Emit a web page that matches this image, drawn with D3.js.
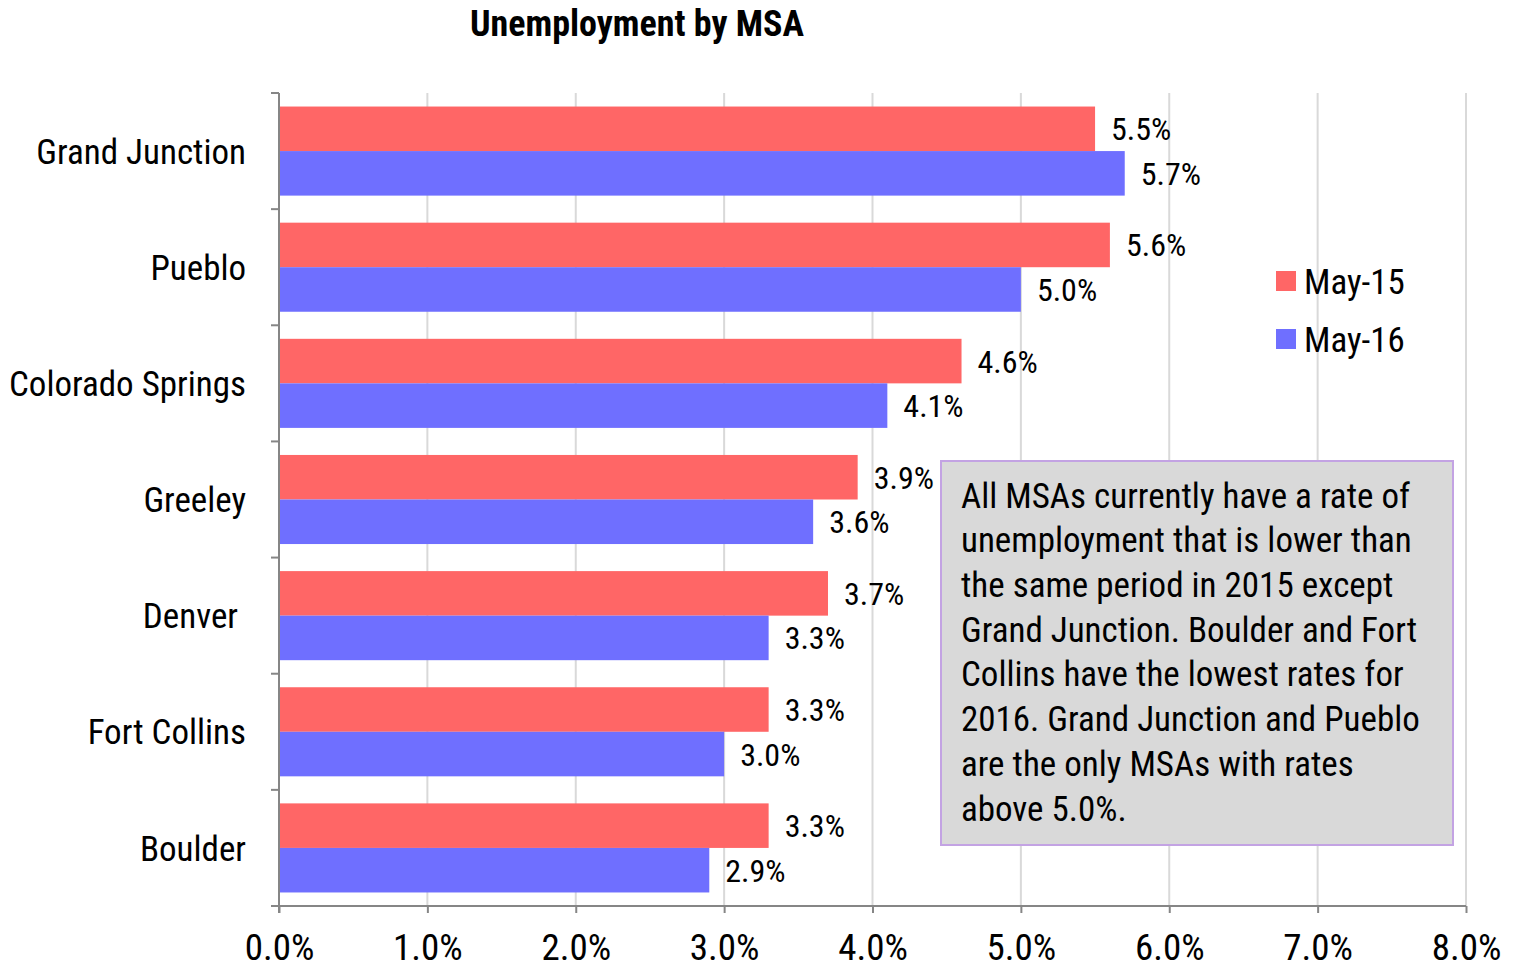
<!DOCTYPE html>
<html><head><meta charset="utf-8">
<script src="https://cdn.jsdelivr.net/npm/d3@7/dist/d3.min.js"></script>
<style>
html,body{margin:0;padding:0;background:#fff;}
svg text{font-family:"Liberation Sans Narrow","Arial Narrow","Roboto Condensed",sans-serif;fill:#000;}
</style></head>
<body><svg id="c" width="1517" height="969"></svg>
<script>
const categories = ["Grand Junction","Pueblo","Colorado Springs","Greeley","Denver ","Fort Collins","Boulder"];
const seriesNames = ["May-15","May-16"];
const may15 = [5.5,5.6,4.6,3.9,3.7,3.3,3.3];
const may16 = [5.7,5.0,4.1,3.6,3.3,3.0,2.9];
const xTicks = [0,1,2,3,4,5,6,7,8];
const colors = ["#FF6666","#6F6FFF"];
const title = "Unemployment by MSA";
const noteLines = ["All MSAs currently have a rate of","unemployment that is lower than","the same period in 2015 except","Grand Junction. Boulder and Fort","Collins have the lowest rates for","2016. Grand Junction and Pueblo","are the only MSAs with rates","above 5.0%."];

const svg = d3.select("#c");
const L = 279, R = 1466, T = 93, B = 906;
const x = d3.scaleLinear().domain([0,8]).range([L,R]);
const y0 = d3.scaleBand().domain(categories).range([T,B]).paddingInner(0.233).paddingOuter(0.1165);
const y1 = d3.scaleBand().domain(seriesNames).range([0,y0.bandwidth()]);
const fmt = d => d.toFixed(1) + "%";

// gridlines
svg.append("g").selectAll("line").data(xTicks.slice(1)).join("line")
  .attr("x1",d=>x(d)).attr("x2",d=>x(d)).attr("y1",T).attr("y2",B)
  .attr("stroke","#d9d9d9").attr("stroke-width",2);

// bars
const data = categories.map((c,i)=>({c, vals:[may15[i],may16[i]]}));
const g = svg.append("g").selectAll("g").data(data).join("g")
  .attr("transform",d=>`translate(0,${y0(d.c)})`);
g.selectAll("rect").data(d=>d.vals.map((v,j)=>({v,s:seriesNames[j],j}))).join("rect")
  .attr("x",x(0)).attr("y",d=>y1(d.s)).attr("width",d=>x(d.v)-x(0)).attr("height",y1.bandwidth())
  .attr("fill",d=>colors[d.j]);
g.selectAll("text").data(d=>d.vals.map((v,j)=>({v,s:seriesNames[j],j}))).join("text")
  .attr("x",d=>x(d.v)+16).attr("y",d=>y1(d.s)+y1.bandwidth()/2).attr("dy","0.36em")
  .attr("font-size",32).text(d=>fmt(d.v));

// x axis
const xAxis = svg.append("g").attr("transform",`translate(0,${B})`)
  .call(d3.axisBottom(x).tickValues(xTicks).tickFormat(d=>d.toFixed(1)+"%").tickSize(7).tickPadding(21).tickSizeOuter(0));
xAxis.select(".domain").attr("stroke","#868686").attr("stroke-width",2).attr("d",`M${L-8},0H${R}`);
xAxis.selectAll(".tick line").attr("stroke","#868686").attr("stroke-width",2);
xAxis.selectAll(".tick text").attr("font-size",37).attr("fill","#000");

// y axis
const yAxis = svg.append("g").attr("transform",`translate(${L},0)`);
yAxis.append("line").attr("x1",0).attr("x2",0).attr("y1",T).attr("y2",B+7).attr("stroke","#868686").attr("stroke-width",2);
const yb = categories.map(c=>y0(c)-y0.step()*y0.paddingInner()/2).concat([B]);
yAxis.selectAll("line.t").data(yb).join("line").attr("class","t")
  .attr("x1",-8).attr("x2",0).attr("y1",d=>d).attr("y2",d=>d).attr("stroke","#868686").attr("stroke-width",2);
yAxis.selectAll("text").data(categories).join("text")
  .attr("x",-33).attr("y",c=>y0(c)+y0.bandwidth()/2).attr("dy","0.36em")
  .attr("text-anchor","end").attr("font-size",35).style("white-space","pre").text(c=>c);

// title
svg.append("text").attr("x",637).attr("y",36).attr("text-anchor","middle")
  .attr("font-size",36).attr("font-weight","bold").text(title);

// legend
const lg = svg.append("g");
seriesNames.forEach((s,i)=>{
  const yy = 281 + i*58;
  lg.append("rect").attr("x",1276).attr("y",yy-10).attr("width",20).attr("height",20).attr("fill",colors[i]);
  lg.append("text").attr("x",1304).attr("y",yy).attr("dy","0.36em").attr("font-size",35).text(s);
});

// annotation
svg.append("rect").attr("x",941).attr("y",461).attr("width",512).attr("height",384)
  .attr("fill","#d9d9d9").attr("stroke","#c3a3e3").attr("stroke-width",2);
svg.append("g").selectAll("text").data(noteLines).join("text")
  .attr("x",961).attr("y",(d,i)=>495+i*44.7).attr("dy","0.36em").attr("font-size",35).text(d=>d);
</script></body></html>
